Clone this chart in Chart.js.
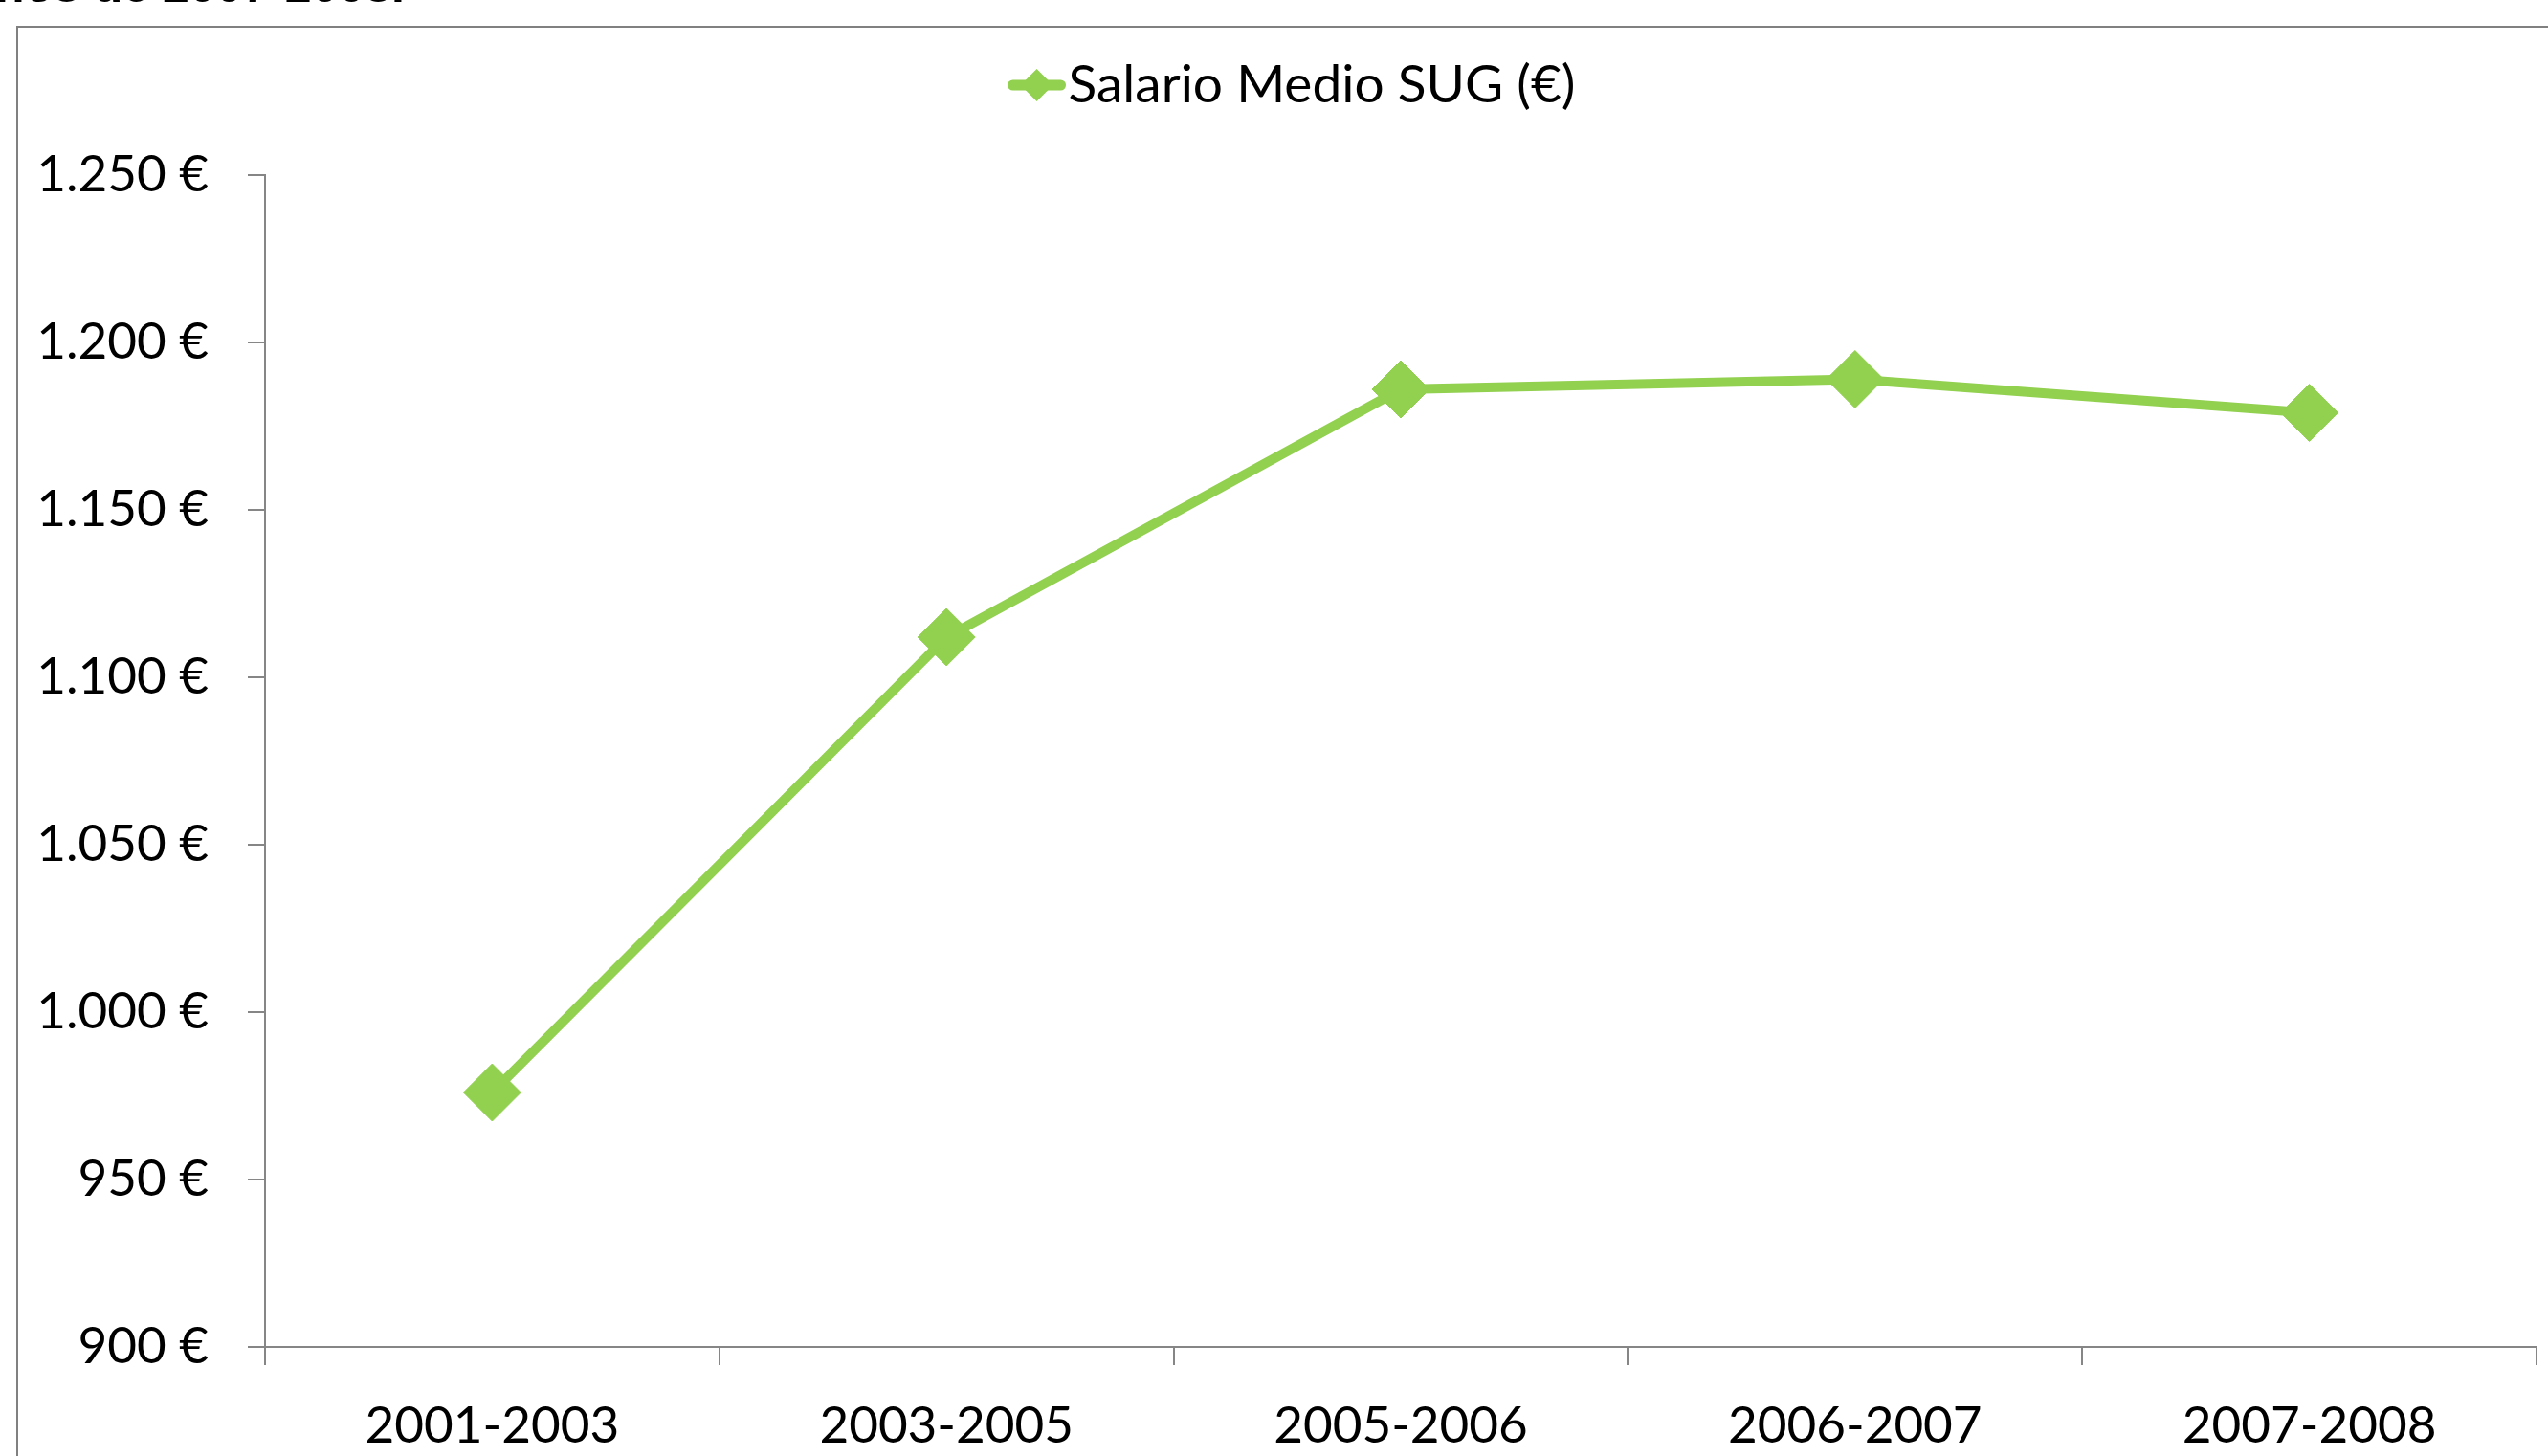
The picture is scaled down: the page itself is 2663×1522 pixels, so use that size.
<!DOCTYPE html>
<html lang="es">
<head>
<meta charset="utf-8">
<title>Salario Medio SUG</title>
<script src="https://cdn.jsdelivr.net/npm/chart.js@4.4.1/dist/chart.umd.min.js"></script>
<style>
  html,body{margin:0;padding:0;background:#fff;overflow:hidden;}
  #wrap{position:relative;width:2663px;height:1522px;overflow:hidden;}
  #chart{position:absolute;left:0;top:0;}
  /* outer chart frame, right & bottom edges fall outside the crop */
  .frame{position:absolute;left:17px;top:27px;width:2700px;height:1600px;border:2px solid #808080;pointer-events:none;}
  .doc-text{position:absolute;top:-40px;right:2240px;font:bold 50px "Liberation Sans",Arial,sans-serif;line-height:50px;white-space:nowrap;color:#000;}
</style>
</head>
<body>
<div id="wrap">
  <div class="doc-text">años de 2007-2008.</div>
  <div class="frame"></div>
  <canvas id="chart" width="2663" height="1522"></canvas>
</div>
<script>
// data
const periods = ['2001-2003', '2003-2005', '2005-2006', '2006-2007', '2007-2008'];
const salarioMedio = [976, 1112, 1186, 1189, 1179];
const yTicks = [900, 950, 1000, 1050, 1100, 1150, 1200, 1250];
const seriesLabel = 'Salario Medio SUG (€)';

const GREEN = '#92D050';
const AXIS = '#868686';
const FONT = 'Lato';
const FS = 53;

// 1250 -> "1.250 €"
function euro(v){
  const s = String(Math.round(v));
  return (s.length > 3 ? s.slice(0, -3) + '.' + s.slice(-3) : s) + ' €';
}

// legend drawn by hand: line + diamond sample, then the label
const sugLegend = {
  id: 'sugLegend',
  afterDraw(chart){
    const ctx = chart.ctx;
    ctx.save();
    ctx.font = '55px ' + FONT;
    const tw = ctx.measureText(seriesLabel).width;
    const markW = 60, gap = 3;
    const cx = 1350, cy = 89;
    const x0 = cx - (markW + gap + tw) / 2;
    ctx.strokeStyle = GREEN; ctx.fillStyle = GREEN;
    ctx.lineWidth = 11; ctx.lineCap = 'round';
    ctx.beginPath(); ctx.moveTo(x0 + 5, cy); ctx.lineTo(x0 + markW - 5, cy); ctx.stroke();
    const mx = x0 + markW / 2, r = 17;
    ctx.beginPath();
    ctx.moveTo(mx - r, cy); ctx.lineTo(mx, cy - r); ctx.lineTo(mx + r, cy); ctx.lineTo(mx, cy + r);
    ctx.closePath(); ctx.fill();
    ctx.fillStyle = '#000';
    ctx.textBaseline = 'middle';
    ctx.fillText(seriesLabel, x0 + markW + gap, cy);
    ctx.restore();
  }
};

function draw(){
  new Chart(document.getElementById('chart').getContext('2d'), {
    type: 'line',
    data: {
      labels: periods,
      datasets: [{
        label: seriesLabel,
        data: salarioMedio,
        borderColor: GREEN,
        backgroundColor: GREEN,
        borderWidth: 10,
        tension: 0,
        pointStyle: 'rectRot',
        pointRadius: 30,
        pointBackgroundColor: GREEN,
        pointBorderColor: GREEN,
        pointBorderWidth: 1,
        clip: false
      }]
    },
    options: {
      responsive: false,
      animation: false,
      devicePixelRatio: 1,
      layout: { autoPadding: false, padding: { top: 183, right: 12, left: 0, bottom: 0 } },
      plugins: { legend: { display: false }, tooltip: { enabled: false } },
      scales: {
        x: {
          offset: true,
          grid: { offset: true, drawOnChartArea: false, tickLength: 19, color: AXIS, lineWidth: 2 },
          border: { color: AXIS, width: 2 },
          ticks: { color: '#000', font: { family: FONT, size: FS }, padding: 32, maxRotation: 0 },
          afterFit: s => { s.height = 114; }
        },
        y: {
          min: yTicks[0],
          max: yTicks[yTicks.length - 1],
          grid: { drawOnChartArea: false, tickLength: 18, color: AXIS, lineWidth: 2 },
          border: { color: AXIS, width: 2 },
          ticks: { color: '#000', font: { family: FONT, size: FS }, padding: 41, callback: v => euro(v) },
          afterBuildTicks: s => { s.ticks = yTicks.map(v => ({ value: v })); },
          afterFit: s => { s.width = 277; }
        }
      }
    },
    plugins: [sugLegend]
  });
}

if(document.fonts && document.fonts.load){
  document.fonts.load(FS + 'px ' + FONT).then(draw, draw);
} else draw();
</script>
</body>
</html>
